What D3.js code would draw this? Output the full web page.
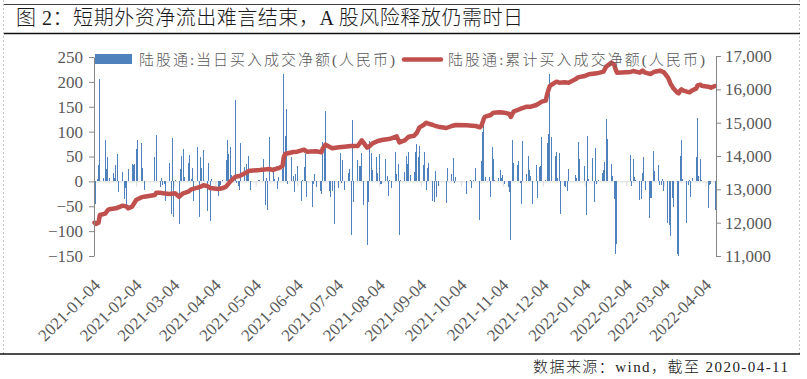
<!DOCTYPE html>
<html>
<head>
<meta charset="utf-8">
<script src="https://cdnjs.cloudflare.com/ajax/libs/d3/7.8.5/d3.min.js"></script>
<style>
  html, body { margin: 0; padding: 0; background: #fff; }
  svg { display: block; }
</style>
</head>
<body>
<div id="chart"></div>
<script>
// trading days (Northbound connect), 2021-01-04 .. 2022-04-11
var tradeDates = [
  // 2021-01
  "2021-01-04","2021-01-05","2021-01-06","2021-01-07","2021-01-08","2021-01-11","2021-01-12","2021-01-13","2021-01-14","2021-01-15",
  "2021-01-18","2021-01-19","2021-01-20","2021-01-21","2021-01-22","2021-01-25","2021-01-26","2021-01-27","2021-01-28","2021-01-29",
  // 2021-02
  "2021-02-01","2021-02-02","2021-02-03","2021-02-04","2021-02-05","2021-02-08","2021-02-09","2021-02-10","2021-02-18","2021-02-19",
  "2021-02-22","2021-02-23","2021-02-24","2021-02-25","2021-02-26",
  // 2021-03
  "2021-03-01","2021-03-02","2021-03-03","2021-03-04","2021-03-05","2021-03-08","2021-03-09","2021-03-10","2021-03-11","2021-03-12",
  "2021-03-15","2021-03-16","2021-03-17","2021-03-18","2021-03-19","2021-03-22","2021-03-23","2021-03-24","2021-03-25","2021-03-26",
  "2021-03-29","2021-03-30","2021-03-31",
  // 2021-04
  "2021-04-01","2021-04-06","2021-04-07","2021-04-08","2021-04-09","2021-04-12","2021-04-13","2021-04-14","2021-04-15","2021-04-16",
  "2021-04-19","2021-04-20","2021-04-21","2021-04-22","2021-04-23","2021-04-26","2021-04-27","2021-04-28","2021-04-29","2021-04-30",
  // 2021-05
  "2021-05-06","2021-05-07","2021-05-10","2021-05-11","2021-05-12","2021-05-13","2021-05-14","2021-05-17","2021-05-18","2021-05-20",
  "2021-05-21","2021-05-24","2021-05-25","2021-05-26","2021-05-27","2021-05-28","2021-05-31",
  // 2021-06
  "2021-06-01","2021-06-02","2021-06-03","2021-06-04","2021-06-07","2021-06-08","2021-06-09","2021-06-10","2021-06-11","2021-06-15",
  "2021-06-16","2021-06-17","2021-06-18","2021-06-21","2021-06-22","2021-06-23","2021-06-24","2021-06-25","2021-06-28","2021-06-29",
  "2021-06-30",
  // 2021-07
  "2021-07-02","2021-07-05","2021-07-06","2021-07-07","2021-07-08","2021-07-09","2021-07-12","2021-07-13","2021-07-14","2021-07-15",
  "2021-07-16","2021-07-19","2021-07-20","2021-07-21","2021-07-22","2021-07-23","2021-07-26","2021-07-27","2021-07-28","2021-07-29",
  "2021-07-30",
  // 2021-08
  "2021-08-02","2021-08-03","2021-08-04","2021-08-05","2021-08-06","2021-08-09","2021-08-10","2021-08-11","2021-08-12","2021-08-13",
  "2021-08-16","2021-08-17","2021-08-18","2021-08-19","2021-08-20","2021-08-23","2021-08-24","2021-08-25","2021-08-26","2021-08-27",
  "2021-08-30","2021-08-31",
  // 2021-09
  "2021-09-01","2021-09-02","2021-09-03","2021-09-06","2021-09-07","2021-09-08","2021-09-09","2021-09-10","2021-09-13","2021-09-14",
  "2021-09-15","2021-09-16","2021-09-17","2021-09-23","2021-09-24","2021-09-27","2021-09-28","2021-09-29","2021-09-30",
  // 2021-10
  "2021-10-08","2021-10-11","2021-10-12","2021-10-13","2021-10-15","2021-10-18","2021-10-19","2021-10-20","2021-10-21","2021-10-22",
  "2021-10-25","2021-10-26","2021-10-27","2021-10-28","2021-10-29",
  // 2021-11
  "2021-11-01","2021-11-02","2021-11-03","2021-11-04","2021-11-05","2021-11-08","2021-11-09","2021-11-10","2021-11-11","2021-11-12",
  "2021-11-15","2021-11-16","2021-11-17","2021-11-18","2021-11-19","2021-11-22","2021-11-23","2021-11-24","2021-11-25","2021-11-26",
  "2021-11-29","2021-11-30",
  // 2021-12
  "2021-12-01","2021-12-02","2021-12-03","2021-12-06","2021-12-07","2021-12-08","2021-12-09","2021-12-10","2021-12-13","2021-12-14",
  "2021-12-15","2021-12-16","2021-12-17","2021-12-20","2021-12-21","2021-12-22","2021-12-23","2021-12-28","2021-12-29","2021-12-30",
  "2021-12-31",
  // 2022-01
  "2022-01-04","2022-01-05","2022-01-06","2022-01-07","2022-01-10","2022-01-11","2022-01-12","2022-01-13","2022-01-14","2022-01-17",
  "2022-01-18","2022-01-19","2022-01-20","2022-01-21","2022-01-24","2022-01-25","2022-01-26","2022-01-27","2022-01-28",
  // 2022-02
  "2022-02-07","2022-02-08","2022-02-09","2022-02-10","2022-02-11","2022-02-14","2022-02-15","2022-02-16","2022-02-17","2022-02-18",
  "2022-02-21","2022-02-22","2022-02-23","2022-02-24","2022-02-25","2022-02-28",
  // 2022-03
  "2022-03-01","2022-03-02","2022-03-03","2022-03-04","2022-03-07","2022-03-08","2022-03-09","2022-03-10","2022-03-11","2022-03-14",
  "2022-03-15","2022-03-16","2022-03-17","2022-03-18","2022-03-21","2022-03-22","2022-03-23","2022-03-24","2022-03-25","2022-03-28",
  "2022-03-29","2022-03-30","2022-03-31",
  // 2022-04
  "2022-04-01","2022-04-06","2022-04-07","2022-04-08","2022-04-11"
];

// 陆股通: 当日买入成交净额 (亿元), same order as tradeDates
var dailyNetBuy = [
  // 2021-01
  3,-46,4,32,205,7,84,25,50,7, 16,7,32,56,-21,18,-36,-13,-53,25,
  // 2021-02
  34,32,35,66,84,78,26,-17,50,94, -11,6,-7,-5,-40,
  // 2021-03
  36,-66,88,-72,3,-85,24,52,66,9, 36,54,5,26,-40,70,-72,48,26,64, -60,36,-80,
  // 2021-04
  5,-29,-11,-7,3,42,84,56,70,13, 163,-3,-9,-17,78,29,35,21,52,-17,
  // 2021-05
  2,2,44,-48,6,-58,90,29,4,-15, 8,25,216,91,145,-5,50,
  // 2021-06
  11,-21,14,30,-40,2,29,56,-31,-51, -5,14,-11,-19,-25,80,76,141,-19,-31, -20,
  // 2021-07
  -86,-13,58,-4,42,-17,16,24,-108,123, -41,42,30,30,58,-48,-128,-41,81,58, 22,
  // 2021-08
  50,16,56,-5,-5,44,11,-29,2,-13, 60,14,34,-108,3,19,52,34,60,12, 19,60,
  // 2021-09
  76,50,71,32,60,-17,26,36,-40,-41, 20,-31,-10,-43,26,14,46,-4,8,
  // 2021-10
  -25,2,-13,3,26,-78,40,100,133,8, 8,-31,70,44,3,
  // 2021-11
  6,22,6,12,-5,-11,-21,-117,84,36, 32,40,-3,-45,82,14,52,22,10,-45, 32,-33,
  // 2021-12
  28,30,90,2,78,96,215,90,52,60, 6,58,-66,-9,-11,-19,24,12,6,80, 44,
  // 2022-01
  30,-68,92,4,46,-42,68,-5,2,16, 22,38,125,86,34,10,-36,-145,-125,
  // 2022-02
  54,-9,44,9,3,-38,-35,16,48,-18, -73,-33,-34,62,20,32,
  // 2022-03
  -7,-7,4,-19,-83,-88,-110,-33,-52,-145, -149,52,84,5,-83,-8,3,-31,6,50, 127,10,44,
  // 2022-04
  3,-54,-7,-6,-57
];

// 陆股通: 累计买入成交净额 (亿元)
var cumDates = [
  "2021-01-04","2021-01-05","2021-01-07","2021-01-08","2021-01-12","2021-01-14","2021-01-15","2021-01-20","2021-01-25","2021-01-28",
  "2021-01-29","2021-02-01","2021-02-04","2021-02-08","2021-02-10","2021-02-18","2021-02-19","2021-02-22","2021-02-24","2021-03-01",
  "2021-03-05","2021-03-08","2021-03-11","2021-03-15","2021-03-17","2021-03-22","2021-03-24","2021-03-26","2021-03-29","2021-03-31",
  "2021-04-06","2021-04-09","2021-04-12","2021-04-15","2021-04-19","2021-04-22","2021-04-26","2021-04-29","2021-04-30","2021-05-07",
  "2021-05-12","2021-05-14","2021-05-17","2021-05-20","2021-05-21","2021-05-24","2021-05-25","2021-05-26","2021-06-01","2021-06-04",
  "2021-06-09","2021-06-11","2021-06-18","2021-06-22","2021-06-23","2021-06-25","2021-06-30","2021-07-05","2021-07-09","2021-07-14",
  "2021-07-19","2021-07-22","2021-07-26","2021-07-28","2021-07-30","2021-08-03","2021-08-06","2021-08-11","2021-08-13","2021-08-17",
  "2021-08-19","2021-08-23","2021-08-26","2021-08-30","2021-09-01","2021-09-03","2021-09-06","2021-09-08","2021-09-09","2021-09-13",
  "2021-09-15","2021-09-17","2021-09-23","2021-09-27","2021-09-30","2021-10-08","2021-10-12","2021-10-15","2021-10-18","2021-10-19",
  "2021-10-20","2021-10-21","2021-10-22","2021-10-26","2021-10-28","2021-11-02","2021-11-05","2021-11-09","2021-11-10","2021-11-12",
  "2021-11-15","2021-11-18","2021-11-22","2021-11-25","2021-11-29","2021-12-01","2021-12-03","2021-12-06","2021-12-07","2021-12-08",
  "2021-12-09","2021-12-10","2021-12-14","2021-12-16","2021-12-20","2021-12-23","2021-12-28","2021-12-30","2022-01-04","2022-01-07",
  "2022-01-13","2022-01-18","2022-01-20","2022-01-24","2022-01-26","2022-01-27","2022-01-28","2022-02-07","2022-02-09","2022-02-11",
  "2022-02-14","2022-02-16","2022-02-18","2022-02-22","2022-02-25","2022-03-01","2022-03-04","2022-03-07","2022-03-08","2022-03-09",
  "2022-03-10","2022-03-11","2022-03-14","2022-03-15","2022-03-16","2022-03-17","2022-03-18","2022-03-21","2022-03-23","2022-03-25",
  "2022-03-28","2022-03-29","2022-03-31","2022-04-01","2022-04-06","2022-04-08","2022-04-11"
];
var cumValues = [
  12000,11960,12000,12230,12270,12380,12400,12430,12510,12480,
  12430,12480,12680,12760,12780,12830,12900,12900,12880,12860,
  12880,12780,12880,12930,13000,13050,13080,13120,13100,13040,
  13010,13030,13080,13230,13380,13400,13480,13550,13560,13580,
  13600,13610,13580,13630,13630,13700,13980,14060,14120,14130,
  14190,14130,14140,14110,14230,14340,14230,14260,14280,14300,
  14300,14470,14250,14300,14380,14450,14480,14510,14530,14590,
  14410,14470,14580,14610,14700,14860,14930,15000,14980,14930,
  14900,14880,14840,14900,14930,14920,14910,14900,14860,14900,
  15010,15140,15180,15230,15300,15310,15300,15260,15170,15330,
  15380,15430,15480,15480,15530,15580,15630,15660,15850,15980,
  16100,16130,16230,16200,16210,16200,16300,16360,16400,16450,
  16480,16530,16680,16800,16730,16600,16500,16520,16550,16530,
  16500,16560,16500,16460,16530,16560,16510,16350,16260,16160,
  16100,16030,15900,15880,15960,16000,15970,15930,15910,15970,
  16020,16120,16140,16110,16080,16050,16100
];

// axis ticks
var monthTicks = ["2021-01-04","2021-02-04","2021-03-04","2021-04-04","2021-05-04","2021-06-04","2021-07-04","2021-08-04",
                  "2021-09-04","2021-10-04","2021-11-04","2021-12-04","2022-01-04","2022-02-04","2022-03-04","2022-04-04"];
var leftTicks = [-150, -100, -50, 0, 50, 100, 150, 200, 250];
var rightTicks = [11000, 12000, 13000, 14000, 15000, 16000, 17000];

var barName = "陆股通:当日买入成交净额(人民币)";
var lineName = "陆股通:累计买入成交净额(人民币)";
var titleText = "图 2：短期外资净流出难言结束，A 股风险释放仍需时日";
var sourceText = "数据来源：wind，截至 2020-04-11";

var W = 807, H = 379;
var blue = "#4F81BD", red = "#C0504D";
var axisFont = '"Liberation Serif", "Times New Roman", serif';
var cjkFont = '"Liberation Serif", "Noto Sans CJK SC", serif';

var parse = d3.timeParse("%Y-%m-%d");
var fmtDay = d3.timeFormat("%Y-%m-%d");

var x = d3.scaleTime()
  .domain([parse("2021-01-04"), parse("2022-04-11")])
  .range([94.5, 715]);
var yL = d3.scaleLinear().domain([-150, 250]).range([256, 57]);
var yR = d3.scaleLinear().domain([11000, 17000]).range([256, 56]);

var svg = d3.select("#chart").append("svg")
  .attr("width", W)
  .attr("height", H)
  .style("background", "#fff");

// frame: dashed side borders, top rule, title rule, bottom rule
svg.append("line").attr("x1", 3.5).attr("x2", 3.5).attr("y1", 0).attr("y2", 354)
  .attr("stroke", "#c8c8c8").attr("stroke-dasharray", "2,2");
svg.append("line").attr("x1", 799.5).attr("x2", 799.5).attr("y1", 0).attr("y2", 354)
  .attr("stroke", "#c8c8c8").attr("stroke-dasharray", "2,2");
svg.append("line").attr("x1", 4).attr("x2", 800).attr("y1", 4.5).attr("y2", 4.5)
  .attr("stroke", "#404040").attr("stroke-width", 1);
svg.append("line").attr("x1", 4).attr("x2", 800).attr("y1", 33.5).attr("y2", 33.5)
  .attr("stroke", "#111").attr("stroke-width", 1.5);
svg.append("line").attr("x1", 0).attr("x2", 800).attr("y1", 354).attr("y2", 354)
  .attr("stroke", "#111").attr("stroke-width", 1.5);

svg.append("text")
  .attr("x", 16).attr("y", 25)
  .attr("textLength", 507).attr("lengthAdjust", "spacing")
  .style("font-family", cjkFont).style("font-size", "20px").style("font-weight", 300).attr("fill", "#1a1a1a")
  .text(titleText);

svg.append("text")
  .attr("x", 788).attr("y", 372)
  .attr("text-anchor", "end")
  .attr("textLength", 255).attr("lengthAdjust", "spacing")
  .style("font-family", cjkFont).style("font-size", "15px").style("font-weight", 300).attr("fill", "#222")
  .text(sourceText);

// zero line with month ticks
var zeroAxis = svg.append("g")
  .attr("transform", "translate(0," + yL(0) + ")")
  .call(d3.axisBottom(x).tickValues(monthTicks.map(parse)).tickSize(5).tickSizeOuter(0).tickFormat(""));
zeroAxis.select(".domain").attr("stroke", "#d9d9d9").attr("d", "M94,0.5H716");
zeroAxis.selectAll(".tick line").attr("stroke", "#d9d9d9");

// daily net buy bars
var bars = tradeDates.map(function(d, i) { return { date: parse(d), value: dailyNetBuy[i] }; });
svg.append("g")
  .selectAll("rect")
  .data(bars)
  .join("rect")
  .attr("x", function(d) { return Math.floor(x(d.date)); })
  .attr("width", 1)
  .attr("y", function(d) { return d.value >= 0 ? yL(d.value) : yL(0); })
  .attr("height", function(d) { return Math.abs(yL(d.value) - yL(0)); })
  .attr("fill", blue)
  .attr("shape-rendering", "crispEdges");

// cumulative line
var cum = cumDates.map(function(d, i) { return { date: parse(d), value: cumValues[i] }; });
svg.append("path")
  .datum(cum)
  .attr("fill", "none")
  .attr("stroke", red)
  .attr("stroke-width", 4.5)
  .attr("stroke-linejoin", "round")
  .attr("stroke-linecap", "round")
  .attr("d", d3.line().x(function(d) { return x(d.date); }).y(function(d) { return yR(d.value); }));

// left axis
var gL = svg.append("g")
  .attr("transform", "translate(94,0)")
  .call(d3.axisLeft(yL).tickValues(leftTicks).tickSize(5).tickSizeOuter(0).tickPadding(6)
    .tickFormat(function(d) { return d < 0 ? "\u2212" + Math.abs(d) : d; }));

// right axis
var gR = svg.append("g")
  .attr("transform", "translate(716,0)")
  .call(d3.axisRight(yR).tickValues(rightTicks).tickSize(5).tickSizeOuter(0).tickPadding(4)
    .tickFormat(d3.format(",")));

[gL, gR].forEach(function(g) {
  g.select(".domain").attr("stroke", "#868686");
  g.selectAll(".tick line").attr("stroke", "#868686");
  g.selectAll("text").style("font-family", axisFont).style("font-size", "17px").attr("fill", "#595959");
});

// rotated date labels at the bottom
var gX = svg.append("g")
  .attr("transform", "translate(0,282)")
  .call(d3.axisBottom(x).tickValues(monthTicks.map(parse)).tickSize(0).tickFormat(fmtDay));
gX.select(".domain").remove();
gX.selectAll("text")
  .attr("x", 0).attr("y", 0).attr("dy", "0.35em")
  .attr("text-anchor", "end")
  .attr("transform", "translate(2,0) rotate(-45)")
  .style("font-family", axisFont).style("font-size", "17px").attr("fill", "#595959");

// legend
var legend = svg.append("g");
legend.append("rect").attr("x", 95).attr("y", 54).attr("width", 37).attr("height", 10).attr("fill", blue);
legend.append("text").attr("x", 139).attr("y", 64.5)
  .attr("textLength", 256).attr("lengthAdjust", "spacing")
  .style("font-family", cjkFont).style("font-size", "15px").style("font-weight", 300).attr("fill", "#595959")
  .text(barName);
legend.append("line").attr("x1", 404).attr("x2", 441).attr("y1", 59.5).attr("y2", 59.5)
  .attr("stroke", red).attr("stroke-width", 4.5).attr("stroke-linecap", "round");
legend.append("text").attr("x", 448).attr("y", 64.5)
  .attr("textLength", 257).attr("lengthAdjust", "spacing")
  .style("font-family", cjkFont).style("font-size", "15px").style("font-weight", 300).attr("fill", "#595959")
  .text(lineName);
</script>
</body>
</html>
